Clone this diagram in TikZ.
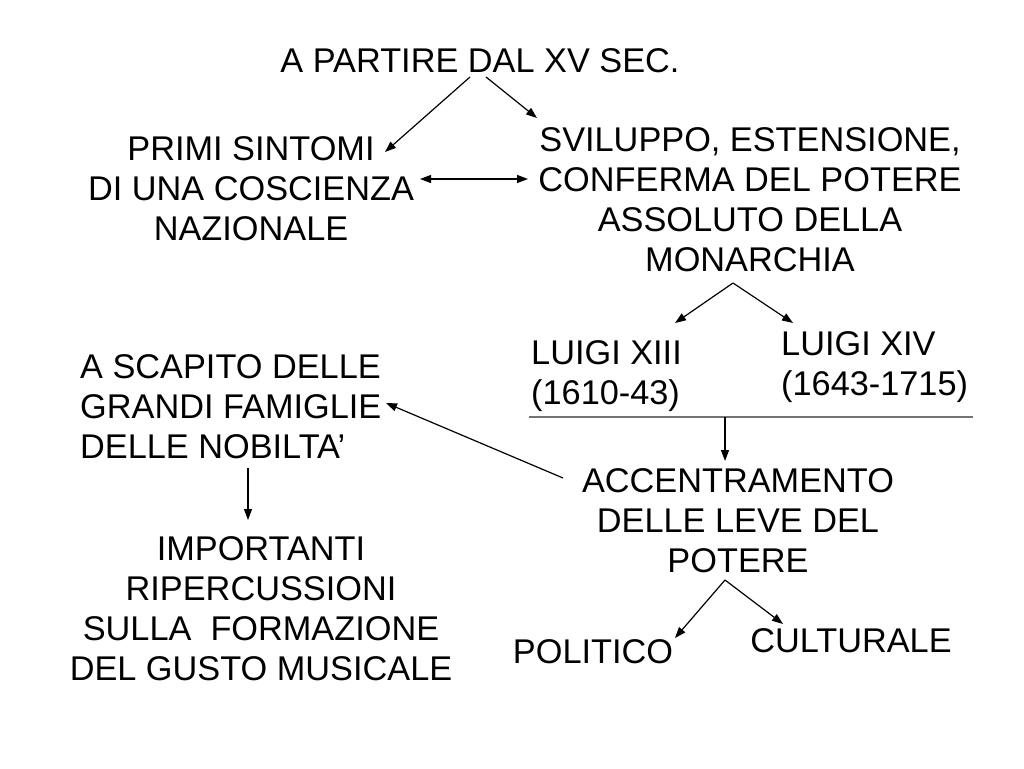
\documentclass[tikz,border=0pt]{standalone}
\usepackage{fontspec}
\setmainfont{Liberation Sans}
\usetikzlibrary{arrows.meta}
\begin{document}
\begin{tikzpicture}[x=1pt,y=-1pt,
  txt/.style={inner sep=0pt, anchor=base, font=\fontsize{34.3}{40}\selectfont, align=center},
  ltxt/.style={txt, align=left, anchor=base west},
  arr/.style={-{Triangle[length=11pt,width=8pt]}, line width=1.2pt},
  darr/.style={{Triangle[length=11pt,width=8pt]}-{Triangle[length=11pt,width=8pt]}, line width=1.2pt}]
\useasboundingbox[fill=white] (0,0) rectangle (1024,768);
% texts (anchor = baseline of last line)
\node[txt] (top) at (480,72) {A PARTIRE DAL XV SEC.};
\node[txt] (primi) at (251,240) {PRIMI SINTOMI\\DI UNA COSCIENZA\\NAZIONALE};
\node[txt] (svil) at (750,271) {SVILUPPO, ESTENSIONE,\\CONFERMA DEL POTERE\\ASSOLUTO DELLA\\MONARCHIA};
\node[ltxt] (l13) at (531,404) {LUIGI XIII\\(1610-43)};
\node[ltxt] (l14) at (781,395) {LUIGI XIV\\(1643-1715)};
\node[ltxt] (scap) at (80,458) {A SCAPITO DELLE\\GRANDI FAMIGLIE\\DELLE NOBILTA’};
\node[txt] (acc) at (738,572) {ACCENTRAMENTO\\DELLE LEVE DEL\\POTERE};
\node[txt] (imp) at (261,680) {IMPORTANTI\\RIPERCUSSIONI\\SULLA\ \ FORMAZIONE\\DEL GUSTO MUSICALE};
\node[txt] (pol) at (593,663) {POLITICO};
\node[txt] (cult) at (851,652) {CULTURALE};
% connector points
\coordinate (t1) at (470,77);
\coordinate (t2) at (486,77);
\coordinate (pe) at (385,152);
\coordinate (se) at (537,118);
\coordinate (d1) at (420,179);
\coordinate (d2) at (528,179);
\coordinate (m) at (733,283);
\coordinate (l13e) at (675,323);
\coordinate (l14e) at (793,323);
\coordinate (hl) at (529,417);
\coordinate (hr) at (973,417);
\coordinate (hm) at (725,417);
\coordinate (acct) at (725,461);
\coordinate (as) at (563,478);
\coordinate (se2) at (386,403);
\coordinate (sd1) at (248,468);
\coordinate (sd2) at (248,520);
\coordinate (p) at (725,580);
\coordinate (pole) at (675,638);
\coordinate (culte) at (783,624);
% connectors
\draw[arr] (t1) -- (pe);
\draw[arr] (t2) -- (se);
\draw[darr] (d1) -- (d2);
\draw[arr] (m) -- (l13e);
\draw[arr] (m) -- (l14e);
\draw[line width=1.4pt, draw=black!55] (hl) -- (hr);
\draw[arr] (hm) -- (acct);
\draw[arr] (as) -- (se2);
\draw[arr] (sd1) -- (sd2);
\draw[arr] (p) -- (pole);
\draw[arr] (p) -- (culte);
\end{tikzpicture}
\end{document}
